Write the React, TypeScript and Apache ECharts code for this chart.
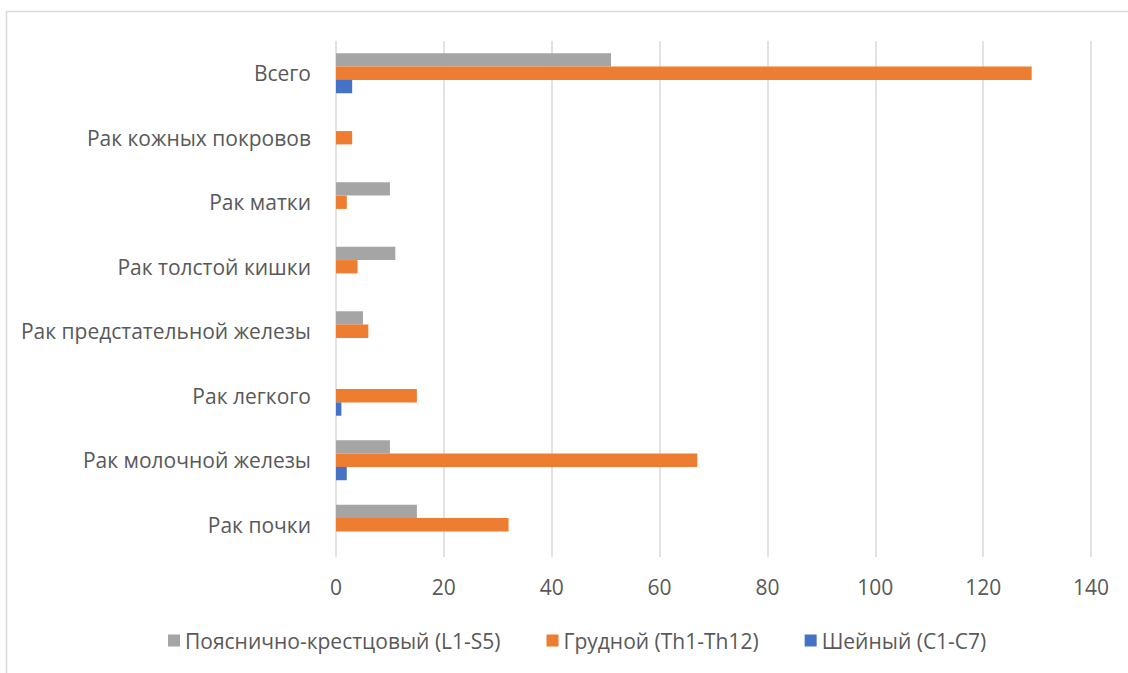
import React, { useEffect, useRef } from "react";
import * as echarts from "echarts";

const categories = [
  "Рак почки",
  "Рак молочной железы",
  "Рак легкого",
  "Рак предстательной железы",
  "Рак толстой кишки",
  "Рак матки",
  "Рак кожных покровов",
  "Всего",
];

const lumbarName = "Пояснично-крестцовый (L1-S5)";
const thoracicName = "Грудной (Th1-Th12)";
const cervicalName = "Шейный (C1-C7)";

const lumbar = [15, 10, 0, 5, 11, 10, 0, 51];
const thoracic = [32, 67, 15, 6, 4, 2, 3, 129];
const cervical = [0, 2, 1, 0, 0, 0, 0, 3];

const xTicks = { min: 0, max: 140, interval: 20 };

const FONT = "'Open Sans', sans-serif";
const TEXT = "#595959";

export default function App() {
  const ref = useRef<HTMLDivElement>(null);
  useEffect(() => {
    if (!ref.current) return;
    const chart = echarts.init(ref.current, null, { renderer: "svg" });
    chart.setOption({
      animation: false,
      backgroundColor: "#ffffff",
      textStyle: { fontFamily: FONT },
      graphic: [
        {
          type: "rect",
          shape: { x: 6.5, y: 11.5, width: 1300, height: 800 },
          style: { fill: "none", stroke: "#D9D9D9", lineWidth: 1.5 },
          silent: true,
        },
      ],
      grid: { left: 336, right: 37, top: 41, bottom: 116, containLabel: false },
      legend: {
        data: [lumbarName, thoracicName, cervicalName],
        bottom: 17,
        left: 163,
        itemWidth: 12,
        itemHeight: 12,
        itemGap: 46,
        icon: "rect",
        textStyle: { fontFamily: FONT, fontSize: 21, color: TEXT },
      },
      xAxis: {
        type: "value",
        min: xTicks.min,
        max: xTicks.max,
        interval: xTicks.interval,
        axisLine: { show: false },
        axisTick: { show: false },
        axisLabel: { fontFamily: FONT, fontSize: 21, color: TEXT, margin: 19 },
        splitLine: { lineStyle: { color: "#D9D9D9", width: 1.5 } },
      },
      yAxis: {
        type: "category",
        data: categories,
        axisLine: { show: false },
        axisTick: { show: false },
        axisLabel: { fontFamily: FONT, fontSize: 21, color: TEXT, margin: 25 },
        splitLine: { show: false },
      },
      series: [
        {
          name: lumbarName,
          type: "bar",
          data: lumbar,
          itemStyle: { color: "#A5A5A5" },
          barGap: "0%",
          barCategoryGap: "38%",
        },
        {
          name: thoracicName,
          type: "bar",
          data: thoracic,
          itemStyle: { color: "#ED7D31" },
          barGap: "0%",
          barCategoryGap: "38%",
        },
        {
          name: cervicalName,
          type: "bar",
          data: cervical,
          itemStyle: { color: "#4472C4" },
          barGap: "0%",
          barCategoryGap: "38%",
        },
      ],
    });
    return () => chart.dispose();
  }, []);
  return (
    <div
      ref={ref}
      style={{ position: "absolute", left: 0, top: 0, width: 1128, height: 673 }}
    />
  );
}
